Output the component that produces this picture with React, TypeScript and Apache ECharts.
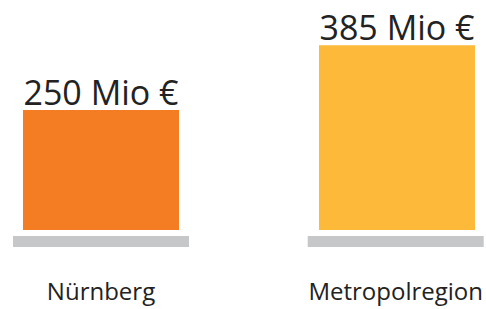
import React, { useEffect, useRef } from "react";
import * as echarts from "echarts";

const categories = ["Nürnberg", "Metropolregion"];
const values = [250, 385];
const valueLabels = ["250 Mio €", "385 Mio €"];
const barColors = ["#F47D24", "#FDB93A"];
const baseValues = [1, 1];

export default function App() {
  const ref = useRef<HTMLDivElement>(null);
  useEffect(() => {
    if (!ref.current) return;
    const chart = echarts.init(ref.current, undefined, { renderer: "svg" });
    chart.setOption({
      animation: false,
      backgroundColor: "#ffffff",
      textStyle: { fontFamily: "Open Sans" },
      grid: [
        { left: 101, right: 89, top: 38, height: 192 },
        { left: 101, right: 89, top: 236, height: 11 },
      ],
      xAxis: [
        {
          type: "category",
          gridIndex: 0,
          data: categories,
          boundaryGap: false,
          axisLine: { show: false },
          axisTick: { show: false },
          axisLabel: { show: false },
        },
        {
          type: "category",
          gridIndex: 1,
          data: categories,
          boundaryGap: false,
          axisLine: { show: false },
          axisTick: { show: false },
          axisLabel: {
            show: true,
            margin: 31,
            fontSize: 24,
            color: "#222222",
            fontFamily: "Open Sans",
          },
        },
      ],
      yAxis: [
        { type: "value", gridIndex: 0, min: 0, max: 400, show: false },
        { type: "value", gridIndex: 1, min: 0, max: 1, show: false },
      ],
      series: [
        {
          type: "bar",
          xAxisIndex: 0,
          yAxisIndex: 0,
          barWidth: 156,
          data: values.map((v, i) => ({ value: v, itemStyle: { color: barColors[i] } })),
          label: {
            show: true,
            position: "top",
            distance: 1,
            fontSize: 34,
            color: "#222222",
            fontFamily: "Open Sans",
            formatter: (p: any) => valueLabels[p.dataIndex],
          },
        },
        {
          type: "bar",
          xAxisIndex: 1,
          yAxisIndex: 1,
          barWidth: 176,
          data: baseValues,
          itemStyle: { color: "#C6C7C8" },
        },
      ],
    });
    return () => chart.dispose();
  }, []);
  return <div ref={ref} style={{ width: 486, height: 309, position: "absolute", left: 0, top: 0 }} />;
}
